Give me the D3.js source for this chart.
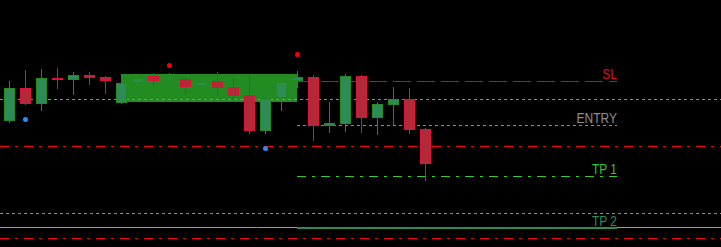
<!DOCTYPE html>
<html>
<head>
<meta charset="utf-8">
<script src="https://cdn.jsdelivr.net/npm/d3@7"></script>
<style>
  html, body { margin: 0; padding: 0; background: #000; }
  svg { display: block; }
  .level-label { font-family: "Liberation Sans", Arial, sans-serif; font-size: 12px; }
</style>
</head>
<body>
<svg id="chart"></svg>
<script>
const WIDTH = 721;
const HEIGHT = 247;

// bar index -> OHLC
const OPEN  = [1.09129, 1.09162, 1.09146, 1.09172, 1.09170, 1.09175, 1.09173, 1.09147, 1.09167, 1.09174,
               1.09171, 1.09171, 1.09164, 1.09169, 1.09163, 1.09155, 1.09119, 1.09152, 1.09169, 1.09173,
               1.09124, 1.09126, 1.09174, 1.09132, 1.09145, 1.09151, 1.09121];
const HIGH  = [1.09169, 1.09180, 1.09181, 1.09182, 1.09178, 1.09178, 1.09174, 1.09167, 1.09173, 1.09177,
               1.09177, 1.09173, 1.09169, 1.09178, 1.09172, 1.09175, 1.09151, 1.09168, 1.09179, 1.09175,
               1.09148, 1.09176, 1.09175, 1.09148, 1.09163, 1.09162, 1.09122];
const LOW   = [1.09128, 1.09146, 1.09140, 1.09162, 1.09156, 1.09166, 1.09157, 1.09147, 1.09166, 1.09165,
               1.09164, 1.09156, 1.09163, 1.09155, 1.09151, 1.09117, 1.09117, 1.09140, 1.09163, 1.09110,
               1.09118, 1.09119, 1.09118, 1.09116, 1.09126, 1.09117, 1.09070];
const CLOSE = [1.09162, 1.09146, 1.09172, 1.09170, 1.09175, 1.09172, 1.09169, 1.09167, 1.09172, 1.09169,
               1.09172, 1.09163, 1.09168, 1.09162, 1.09154, 1.09119, 1.09151, 1.09168, 1.09173, 1.09124,
               1.09127, 1.09174, 1.09132, 1.09146, 1.09151, 1.09120, 1.09086];

// trade levels (drawn from bar LEVEL_FROM to LEVEL_TO)
const LEVEL_NAMES = ["SL", "ENTRY", "TP 1", "TP 2"];
const LEVEL_PRICES = [1.09169, 1.09125, 1.09074, 1.09022];
const LEVEL_FROM = 18;
const LEVEL_TO = 38;

// full width guide lines
const GUIDE_PRICES = [1.09151, 1.09104, 1.09037, 1.09023, 1.09012];

// zone box
const ZONE_FROM = 7;
const ZONE_TO = 18;
const ZONE_TOP = 1.09176;
const ZONE_BOTTOM = 1.09148;

// arrow markers
const UP_MARK_BARS = [10, 18];
const UP_MARK_PRICES = [1.09185, 1.09196];
const DOWN_MARK_BARS = [1, 16];
const DOWN_MARK_PRICES = [1.09131, 1.09102];

const LEVEL_STYLE = {
  "SL":    { stroke: "#f00000", dash: "18,6", width: 1, text: "#e01010" },
  "ENTRY": { stroke: "#8a8a8a", dash: "3,3",  width: 1, text: "#8e8e8e" },
  "TP 1":  { stroke: "#32cd32", dash: "9,6,3,6", width: 1, text: "#2ec82e" },
  "TP 2":  { stroke: "#2e8b57", dash: null,   width: 2, text: "#2e8b57" }
};
const GUIDE_STYLE = [
  { stroke: "#3fc43f", dash: "3,3" },
  { stroke: "#ff0000", dash: "9,6,3,6" },
  { stroke: "#3fc43f", dash: "3,3" },
  { stroke: "#9a9a9a", dash: null },
  { stroke: "#ff0000", dash: "9,6,3,6" }
];

const svg = d3.select("#chart").attr("width", WIDTH).attr("height", HEIGHT);

svg.append("rect")
  .attr("width", WIDTH)
  .attr("height", HEIGHT)
  .attr("fill", "#000");

const x = d3.scaleLinear().domain([0, 44]).range([9.5, 713.5]);
const y = d3.scaleLinear().domain([1.09250 - HEIGHT * 0.00001, 1.09250]).range([HEIGHT, 0]);
const py = (p) => Math.round(y(p));

// zone
const zx0 = Math.floor(x(ZONE_FROM));
const zx1 = Math.floor(x(ZONE_TO));
svg.append("rect")
  .attr("x", zx0)
  .attr("y", py(ZONE_TOP))
  .attr("width", zx1 - zx0)
  .attr("height", py(ZONE_BOTTOM) - py(ZONE_TOP))
  .attr("fill", "#228b22");

// full width guides
svg.append("g").selectAll("line")
  .data(GUIDE_PRICES)
  .join("line")
  .attr("x1", 0)
  .attr("x2", WIDTH)
  .attr("y1", (d) => py(d) + 0.5)
  .attr("y2", (d) => py(d) + 0.5)
  .attr("stroke", (d, i) => GUIDE_STYLE[i].stroke)
  .attr("stroke-dasharray", (d, i) => GUIDE_STYLE[i].dash)
  .attr("stroke-width", 1);

// trade levels
const lx0 = Math.floor(x(LEVEL_FROM));
const lx1 = Math.floor(x(LEVEL_TO));
const levels = svg.append("g").selectAll("g")
  .data(LEVEL_NAMES)
  .join("g");

levels.append("line")
  .attr("x1", lx0)
  .attr("x2", lx1)
  .attr("y1", (d, i) => py(LEVEL_PRICES[i]) + (LEVEL_STYLE[d].width === 1 ? 0.5 : 0))
  .attr("y2", (d, i) => py(LEVEL_PRICES[i]) + (LEVEL_STYLE[d].width === 1 ? 0.5 : 0))
  .attr("stroke", (d) => LEVEL_STYLE[d].stroke)
  .attr("stroke-width", (d) => LEVEL_STYLE[d].width)
  .attr("stroke-dasharray", (d) => LEVEL_STYLE[d].dash);

levels.append("text")
  .attr("class", "level-label")
  .attr("text-anchor", "end")
  .attr("transform", (d, i) => `translate(${lx1},${py(LEVEL_PRICES[i]) - 2}) scale(1,1.25)`)
  .attr("fill", (d) => LEVEL_STYLE[d].text)
  .text((d) => d);

// candles
const bars = d3.range(OPEN.length).map((i) => ({
  i, o: OPEN[i], h: HIGH[i], l: LOW[i], c: CLOSE[i], up: CLOSE[i] >= OPEN[i]
}));

const candles = svg.append("g").selectAll("g")
  .data(bars)
  .join("g");

candles.append("line")
  .attr("x1", (d) => x(d.i))
  .attr("x2", (d) => x(d.i))
  .attr("y1", (d) => py(d.h))
  .attr("y2", (d) => py(d.l) + 1)
  .attr("stroke", (d) => d.up ? "#228b22" : "#dc143c");

candles.append("rect")
  .attr("x", (d) => x(d.i) - 5)
  .attr("width", 10)
  .attr("y", (d) => py(Math.max(d.o, d.c)) + 0.5)
  .attr("height", (d) => Math.max(1, py(Math.min(d.o, d.c)) - py(Math.max(d.o, d.c)) - 1))
  .attr("fill", (d) => d.up ? "#2e8b57" : "#b22a37")
  .attr("stroke", (d) => d.up ? "#228b22" : "#dc143c");

// markers
svg.append("g").selectAll("circle")
  .data(UP_MARK_BARS)
  .join("circle")
  .attr("cx", (d) => x(d))
  .attr("cy", (d, i) => py(UP_MARK_PRICES[i]) + 0.5)
  .attr("r", 2.5)
  .attr("fill", "#ff0000");

svg.append("g").selectAll("circle")
  .data(DOWN_MARK_BARS)
  .join("circle")
  .attr("cx", (d) => x(d))
  .attr("cy", (d, i) => py(DOWN_MARK_PRICES[i]) + 0.5)
  .attr("r", 2.5)
  .attr("fill", "#1e90ff");
</script>
</body>
</html>
